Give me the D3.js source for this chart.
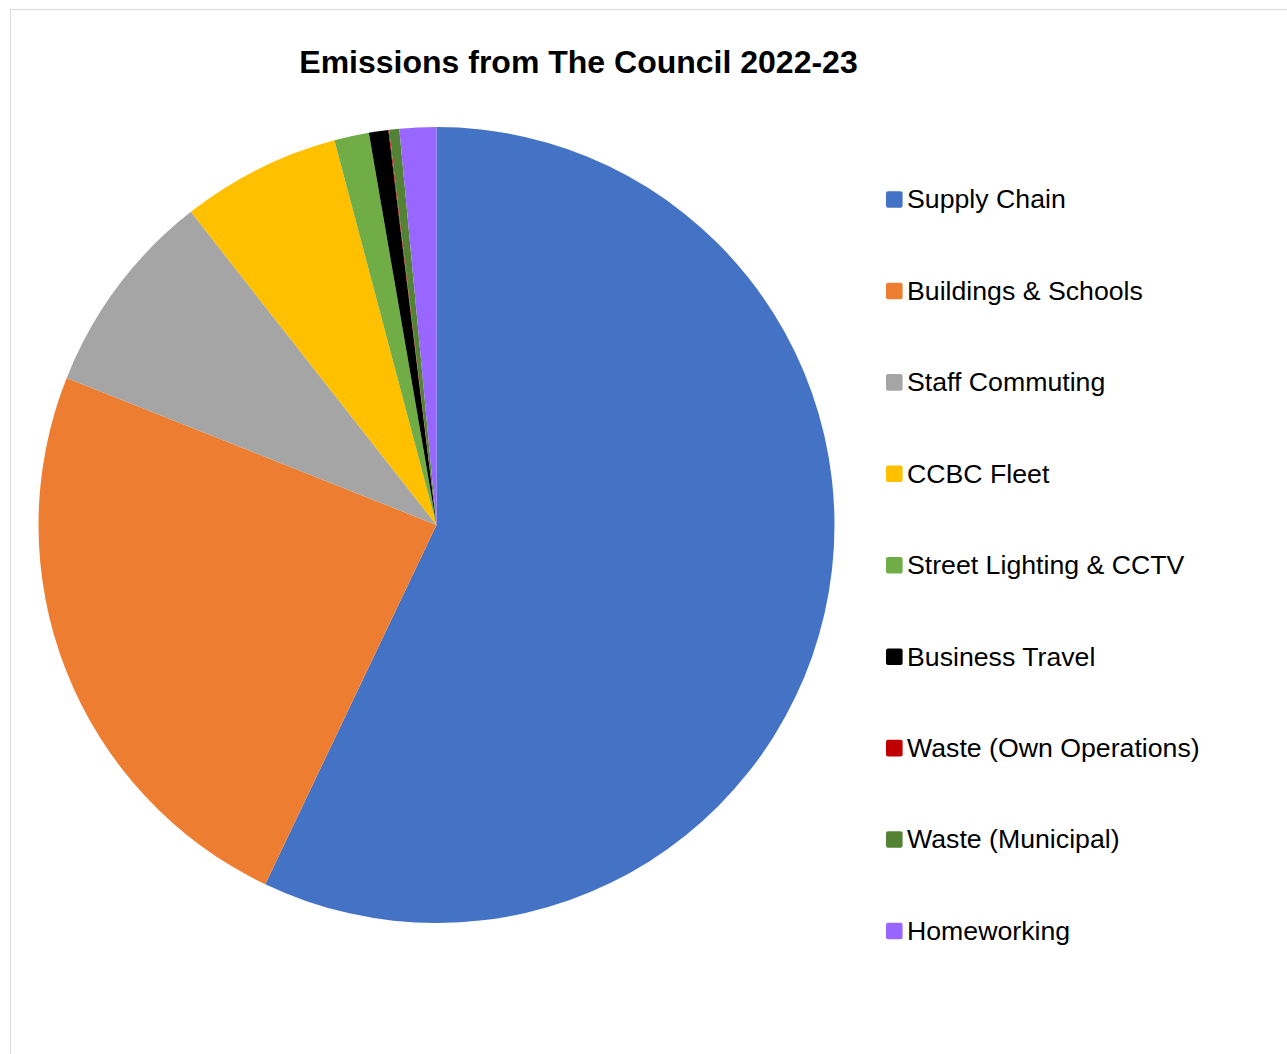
<!DOCTYPE html>
<html>
<head>
<meta charset="utf-8">
<script src="https://cdn.jsdelivr.net/npm/d3@7"></script>
<style>
  html, body { margin: 0; padding: 0; background: #fff; }
  svg { display: block; }
</style>
</head>
<body>
<script>
// Emission sources and their share of the total (%)
const categories = [
  "Supply Chain",
  "Buildings & Schools",
  "Staff Commuting",
  "CCBC Fleet",
  "Street Lighting & CCTV",
  "Business Travel",
  "Waste (Own Operations)",
  "Waste (Municipal)",
  "Homeworking"
];
const shares = [57.09, 23.95, 8.39, 6.46, 1.41, 0.79, 0.03, 0.41, 1.49];
const colors = ["#4472C4", "#ED7D31", "#A5A5A5", "#FFC000", "#70AD47", "#000000", "#C00000", "#548235", "#9966FF"];
const title = "Emissions from The Council 2022-23";

const W = 1287, H = 1054;
const svg = d3.select("body").append("svg").attr("width", W).attr("height", H);

// chart area frame
svg.append("rect")
  .attr("x", 10.5).attr("y", 9.5)
  .attr("width", W).attr("height", H)
  .attr("fill", "#fff").attr("stroke", "#D9D9D9").attr("stroke-width", 1);

svg.append("text")
  .attr("x", 578.5).attr("y", 73)
  .attr("text-anchor", "middle")
  .attr("font-family", "Liberation Sans, Arial, sans-serif")
  .attr("font-weight", "bold")
  .attr("font-size", 32)
  .attr("fill", "#000")
  .text(title);

const data = categories.map((c, i) => ({ name: c, value: shares[i], color: colors[i] }));

const pie = d3.pie().sort(null).value(d => d.value);
const arc = d3.arc().innerRadius(0).outerRadius(398);

const g = svg.append("g").attr("transform", "translate(436.5,525)");
g.selectAll("path")
  .data(pie(data))
  .join("path")
  .attr("d", arc)
  .attr("fill", d => d.data.color);

// legend
const legendY = d3.scalePoint().domain(categories).range([199.5, 931]);
const lg = svg.append("g");
const rows = lg.selectAll("g").data(data).join("g")
  .attr("transform", d => `translate(886,${legendY(d.name)})`);
rows.append("rect")
  .attr("x", 0).attr("y", -8.3)
  .attr("width", 16.6).attr("height", 16.6)
  .attr("rx", 2)
  .attr("fill", d => d.color);
rows.append("text")
  .attr("x", 21).attr("y", 8.8)
  .attr("font-family", "Liberation Sans, Arial, sans-serif")
  .attr("font-size", 26.7)
  .attr("fill", "#000")
  .text(d => d.name);
</script>
</body>
</html>
